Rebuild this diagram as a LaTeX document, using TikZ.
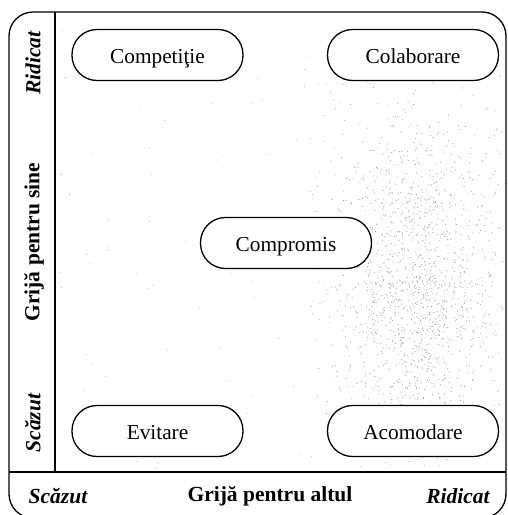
\documentclass[tikz,border=0pt]{standalone}
\usepackage{fontspec}
\setmainfont{Liberation Serif}
\begin{document}
\begin{tikzpicture}[x=1pt,y=-1pt,line width=1.3pt,
  pill/.style={draw,fill=white,rounded corners=25pt,minimum width=171pt,
    minimum height=51pt,inner sep=0pt,text height=17pt,text depth=1pt,
    font=\fontsize{21.3}{25}\selectfont},
  axislabel/.style={font=\fontsize{21.5}{25}\selectfont\bfseries,inner sep=0pt},
  endlabel/.style={font=\fontsize{21.5}{25}\selectfont\bfseries\itshape,inner sep=0pt},
  grain/.style={fill=black!35}]
\useasboundingbox (0,0) rectangle (508,515);

% grainy shading, a soft cloud on the right half
\pgfmathsetseed{11}
\foreach \i in {1,...,1300}{
  \pgfmathsetmacro\px{418+92*(rnd-rnd)}
  \pgfmathsetmacro\py{285+185*(rnd-rnd)}
  \fill[grain] (\px,\py) circle[radius=0.6pt];
}
\foreach \i in {1,...,250}{
  \pgfmathsetmacro\px{310+195*rnd}
  \pgfmathsetmacro\py{70+400*rnd}
  \fill[grain] (\px,\py) circle[radius=0.55pt];
}
\foreach \i in {1,...,60}{
  \pgfmathsetmacro\px{60+260*rnd}
  \pgfmathsetmacro\py{20+448*rnd}
  \fill[grain] (\px,\py) circle[radius=0.5pt];
}

% frame and axes
\draw[rounded corners=24pt] (9,12) rectangle (506,518);
\coordinate (vtop) at (55,12);
\coordinate (vbot) at (55,472);
\coordinate (hl) at (9,472);
\coordinate (hr) at (506,472);
\draw (vtop) -- (vbot);
\draw (hl) -- (hr);

% conflict styles
\node[pill] (competitie) at (157.5,55) {Competiţie};
\node[pill] (colaborare) at (413,55) {Colaborare};
\node[pill] (compromis) at (286,243) {Compromis};
\node[pill] (evitare) at (157.5,431) {Evitare};
\node[pill] (acomodare) at (413,431) {Acomodare};

% vertical axis
\node[endlabel,rotate=90] (vhigh) at (33,63) {Ridicat};
\node[axislabel,rotate=90] (vaxis) at (34,242) {Grijă pentru sine};
\node[endlabel,rotate=90] (vlow) at (33,423) {Scăzut};

% horizontal axis
\node[endlabel] (hlow) at (58,496) {Scăzut};
\node[axislabel] (haxis) at (270,496) {Grijă pentru altul};
\node[endlabel] (hhigh) at (458,496) {Ridicat};
\end{tikzpicture}
\end{document}
